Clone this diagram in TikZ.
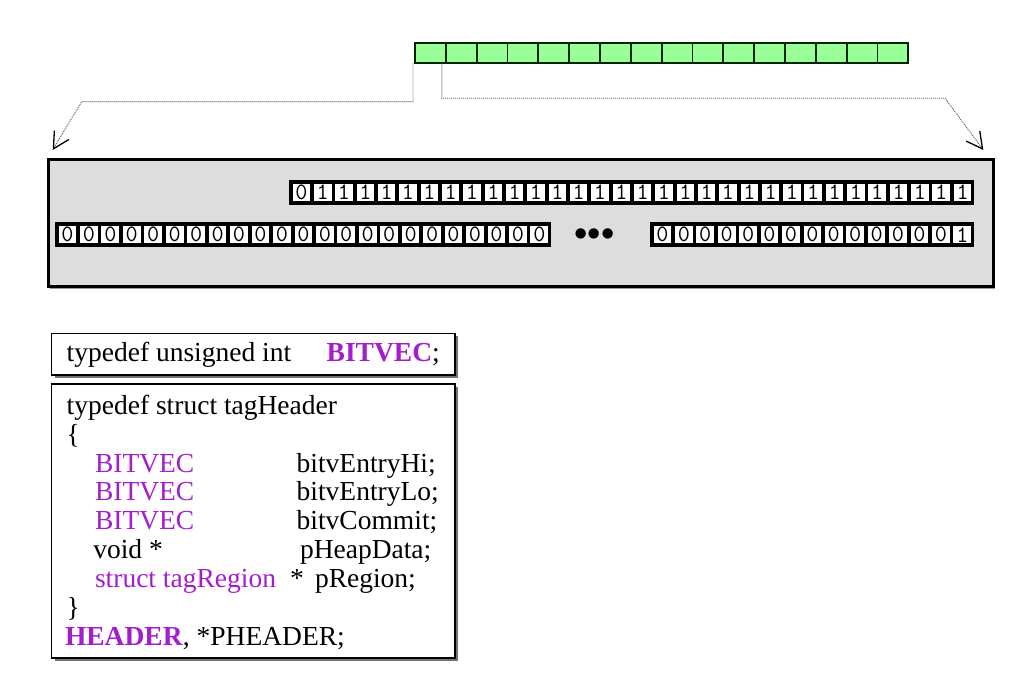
\documentclass[tikz,border=0pt]{standalone}
\usepackage{fontspec}
\setmainfont{Liberation Serif}
\usetikzlibrary{arrows.meta,shadows}
\definecolor{cgreen}{RGB}{153,255,153}
\definecolor{cgray}{RGB}{221,221,221}
\definecolor{cpurple}{RGB}{165,30,205}
\definecolor{cdot}{RGB}{90,90,90}
\tikzset{
  gcell/.style={draw=black!85!green, line width=1.8pt, fill=cgreen, minimum width=30.83pt, minimum height=20.6pt, inner sep=0pt, outer sep=0pt},
  membox/.style={draw=black, line width=2.8pt, fill=cgray, inner sep=0pt, outer sep=0pt, drop shadow={shadow xshift=2pt, shadow yshift=-2pt, fill=black!40, opacity=1}},
  bitrow/.style={fill=black, draw=none, inner sep=0pt, outer sep=0pt},
  bitcell/.style={fill=white, draw=none, inner sep=0pt, outer sep=0pt, font=\ttfamily\fontsize{23.5}{23.5}\selectfont},
  codebox/.style={draw=black, line width=1.3pt, fill=white, inner sep=0pt, outer sep=0pt, drop shadow={shadow xshift=3pt, shadow yshift=-3pt, fill=black!55, opacity=1}},
  code/.style={anchor=base west, inner sep=0pt, outer sep=0pt, font=\fontsize{27.5}{29}\selectfont},
  kw/.style={code, text=cpurple},
  link/.style={draw=cdot, line width=0.9pt, dash pattern=on 1pt off 1pt, -{Straight Barb[length=16pt,width=17pt,line width=1.3pt,color=black]}},
}
\begin{document}
\begin{tikzpicture}[x=1pt,y=-1pt]
\useasboundingbox[fill=white] (0,0) rectangle (1024,676);

% green bar
\foreach \i in {1,...,16}
  \node[gcell] (g\i) at ({415+(\i-0.5)*30.83},53) {};

% memory box
\node[membox, minimum width=945pt, minimum height=127.4pt] (mem) at (520.8,223) {};

% bit rows
\node[bitrow, minimum width=685pt, minimum height=24.5pt] (rowT) at (631.98,192.5) {};
\foreach \i in {1,...,32}
  \node[bitcell, minimum width=17.6pt, minimum height=17pt] (t\i) at ({290.7+(\i-0.5)*21.33},192.5) {\ifnum\i=1 0\else 1\fi};

\node[bitrow, minimum width=496pt, minimum height=24.5pt] (rowL) at (303.38,234.7) {};
\foreach \i in {1,...,23}
  \node[bitcell, minimum width=17.7pt, minimum height=17pt] (l\i) at ({56.7+(\i-0.5)*21.45},234.7) {0};

\node[bitrow, minimum width=324pt, minimum height=24.5pt] (rowR) at (812.35,234.7) {};
\foreach \i in {1,...,15}
  \node[bitcell, minimum width=17.7pt, minimum height=17pt] (r\i) at ({651.7+(\i-0.5)*21.42},234.7) {\ifnum\i=15 1\else 0\fi};

\node[inner sep=0pt, font=\bfseries\fontsize{38}{38}\selectfont] (dots) at (594.5,238) {•••};

% connectors
\coordinate (lbend) at (81.7,101.7);
\coordinate (aL) at (52.7,150);
\coordinate (rbend) at (945,98.3);
\coordinate (aR) at (983.3,150);
\draw[link] ([xshift=-2pt]g1.south west) |- (lbend) -- (aL);
\draw[link] ([xshift=-4pt]g1.south east) |- (rbend) -- (aR);

% code boxes
\node[codebox, minimum width=403.3pt, minimum height=41.7pt] (box1) at (253.35,354.15) {};
\node[codebox, minimum width=403.3pt, minimum height=274pt] (box2) at (253.35,521) {};

\node[code] (c1a) at (66.7,361) {typedef unsigned int};
\node[code] (c1b) at (326.7,361) {\textcolor{cpurple}{\textbf{BITVEC}};};

\node[code] (c2) at (66.7,414.3) {typedef struct tagHeader};
\node[code] (c3) at (66.7,443.15) {\{};
\node[kw] (c4a) at (95,472.0) {BITVEC};
\node[code] (c4b) at (296.7,472.0) {bitvEntryHi;};
\node[kw] (c5a) at (95,500.85) {BITVEC};
\node[code] (c5b) at (296.7,500.85) {bitvEntryLo;};
\node[kw] (c6a) at (95,529.7) {BITVEC};
\node[code] (c6b) at (296.7,529.7) {bitvCommit;};
\node[code] (c7a) at (93.3,558.55) {void *};
\node[code] (c7b) at (300,558.55) {pHeapData;};
\node[kw] (c8a) at (95,587.4) {struct tagRegion};
\node[code] (c8b) at (290,587.4) {*};
\node[code] (c8c) at (315,587.4) {pRegion;};
\node[code] (c9) at (66.7,616.25) {\}};
\node[code] (c10) at (65,645.1) {\textcolor{cpurple}{\textbf{HEADER}}, *PHEADER;};
\end{tikzpicture}
\end{document}
